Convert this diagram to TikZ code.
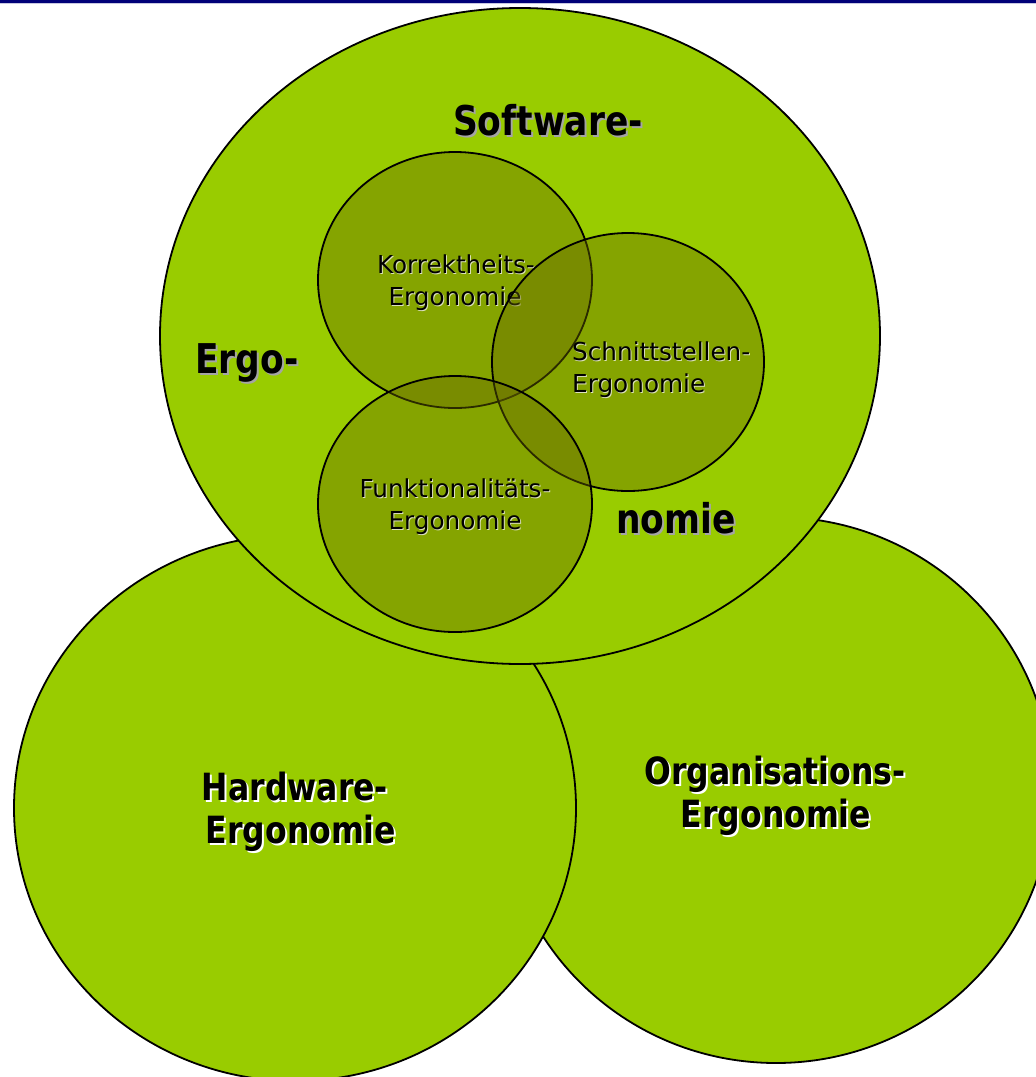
\documentclass[tikz,border=0pt]{standalone}
\usepackage{fontspec}
\setmainfont{DejaVu Sans}
\newfontfamily\tahb[FakeStretch=0.84]{DejaVu Sans}
\usetikzlibrary{shapes.geometric}
\definecolor{lgreen}{RGB}{153,204,0}
\definecolor{olivef}{RGB}{105,105,0}
\definecolor{navybar}{RGB}{0,0,120}
\definecolor{barlight}{RGB}{200,200,225}
\definecolor{shgray}{RGB}{165,165,165}
\definecolor{shlight}{RGB}{220,225,190}
\newcommand\stxt[6]{\node[#1,text=#2,xshift=#6,yshift=-#6] (#3s) at (#4) {#5};\node[#1] (#3) at (#4) {#5};}
\begin{document}
\begin{tikzpicture}[x=1pt,y=-1pt,
  circ/.style={ellipse, draw=black, line width=1.8pt, inner sep=0pt, outer sep=0pt},
  outerc/.style={circ, fill=lgreen},
  innerc/.style={circ, fill=olivef, fill opacity=0.4, draw opacity=1},
  big/.style={font=\tahb\bfseries\fontsize{41}{41}\selectfont, anchor=base, inner sep=0pt},
  mid/.style={font=\tahb\bfseries\fontsize{37.5}{37.5}\selectfont, anchor=base, inner sep=0pt},
  small/.style={font=\fontsize{24.7}{24.7}\selectfont, anchor=base, inner sep=0pt},
  smallw/.style={small, anchor=base west}]
\useasboundingbox (0,0) rectangle (1036,1077);
\fill[white] (0,0) rectangle (1036,1077);
\fill[navybar] (0,0) rectangle (1036,2.6);
\fill[barlight] (0,2.6) rectangle (1036,3.6);
% outer circles
\node[outerc, minimum width=552, minimum height=546] (org) at (776,790) {};
\node[outerc, minimum width=562, minimum height=546] (hw) at (295,808) {};
\node[outerc, minimum width=720, minimum height=656] (sw) at (520,336) {};
% labels of outer circles
\stxt{big}{shgray}{swl}{548,135}{Software-}{2pt}
\stxt{big}{shgray}{ergo}{247,373}{Ergo-}{2pt}
\stxt{big}{shgray}{nomie}{676,533}{nomie}{2pt}
\stxt{mid}{white}{hwa}{295,800}{Hardware-}{2pt}
\stxt{mid}{white}{hwb}{301,843}{Ergonomie}{2pt}
\stxt{mid}{white}{orga}{775,784}{Organisations-}{2pt}
\stxt{mid}{white}{orgb}{776,827}{Ergonomie}{2pt}
% inner circles
\node[innerc, minimum width=274, minimum height=256] (korr) at (455,280) {};
\stxt{small}{shlight}{korra}{456,273}{Korrektheits-}{1pt}
\stxt{small}{shlight}{korrb}{455,305}{Ergonomie}{1pt}
\node[innerc, minimum width=272, minimum height=258] (schn) at (628,362) {};
\stxt{smallw}{shlight}{schna}{572,360}{Schnittstellen-}{1pt}
\stxt{smallw}{shlight}{schnb}{572,392}{Ergonomie}{1pt}
\node[innerc, minimum width=274, minimum height=256] (funk) at (455,504) {};
\stxt{small}{shlight}{funka}{455,497}{Funktionalitäts-}{1pt}
\stxt{small}{shlight}{funkb}{455,529}{Ergonomie}{1pt}
\end{tikzpicture}
\end{document}
